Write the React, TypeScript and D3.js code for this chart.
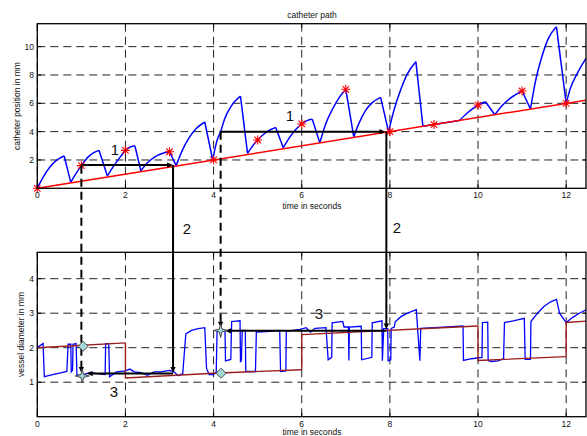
import React from "react";
import * as d3 from "d3";

// ---------- data ----------
const xTicks = [0, 2, 4, 6, 8, 10, 12];
const topYTicks = [2, 4, 6, 8, 10];
const botYTicks = [1, 2, 3, 4];

// catheter path: rising segments (trough -> peak); drops are straight lines to next segment
const pathSegments: [number, number][][] = [
  [[0, 0], [0.14, 0.82], [0.29, 1.52], [0.44, 1.99], [0.61, 2.28]],
  [[0.76, 0.42], [0.88, 1.05], [1.0, 1.6], [1.15, 2.2], [1.28, 2.52], [1.4, 2.68]],
  [[1.59, 0.87], [1.75, 1.65], [1.88, 2.2], [2.0, 2.68], [2.1, 2.9], [2.215, 3.0]],
  [[2.35, 1.24], [2.5, 1.8], [2.65, 2.18], [2.8, 2.42], [3.0, 2.58]],
  [[3.15, 1.6], [3.3, 2.75], [3.45, 3.6], [3.6, 4.2], [3.8, 4.68]],
  [[3.98, 2.0], [4.08, 3.4], [4.16, 4.0], [4.25, 4.9], [4.4, 5.8], [4.5, 6.2], [4.61, 6.51]],
  [[4.77, 2.47], [4.9, 3.05], [5.0, 3.41], [5.15, 3.85], [5.3, 4.15], [5.41, 4.3]],
  [[5.58, 2.87], [5.75, 3.7], [5.88, 4.2], [6.0, 4.54], [6.12, 4.78], [6.24, 4.87]],
  [[6.41, 3.22], [6.55, 4.6], [6.7, 5.6], [6.85, 6.4], [7.0, 6.99]],
  [[7.18, 3.64], [7.3, 4.6], [7.45, 5.5], [7.6, 6.05], [7.79, 6.42]],
  [[7.97, 4.0], [8.1, 5.6], [8.25, 7.0], [8.4, 8.1], [8.59, 8.94]],
  [[8.75, 4.38], [9.0, 4.5], [9.58, 4.79]],
  [[9.58, 4.79], [9.75, 5.3], [9.88, 5.62], [10.0, 5.88], [10.17, 6.11]],
  [[10.38, 5.19], [10.55, 5.85], [10.75, 6.4], [11.0, 6.87]],
  [[11.19, 5.6], [11.3, 7.5], [11.45, 9.3], [11.6, 10.6], [11.78, 11.4]],
  [[12.0, 6.0], [12.1, 7.1], [12.25, 8.1], [12.45, 9.17]],
];

const vesselLine: [number, number][] = [[0, 0], [12.45, 6.225]];
const starTimes = [0, 1, 2, 3, 4, 5, 6, 7, 8, 9, 10, 11, 12];
const starValues = [0, 1.6, 2.68, 2.58, 2.0, 3.41, 4.54, 6.99, 4.0, 4.5, 5.88, 6.87, 6.0];

// vessel diameter
const diamMeasured: [number, number][] = [
  [0, 2.0], [0.13, 2.12], [0.16, 1.16], [0.35, 1.22], [0.55, 1.28], [0.67, 1.31], [0.7, 2.1], [0.76, 2.1],
  [0.77, 1.3], [0.8, 1.35], [0.81, 2.1], [0.88, 2.12], [0.9, 1.2], [1.05, 1.22], [1.2, 1.28], [1.35, 1.25],
  [1.54, 1.22], [1.55, 2.12], [1.62, 2.12], [1.64, 1.16], [1.8, 1.3], [2.0, 1.33], [2.1, 1.38], [2.2, 1.3],
  [2.35, 1.28], [2.5, 1.2], [2.65, 1.3], [2.8, 1.3], [3.0, 1.34], [3.1, 1.3], [3.2, 1.19], [3.3, 1.25],
  [3.37, 2.4], [3.5, 2.5], [3.65, 2.55], [3.8, 2.58], [3.84, 1.4], [3.9, 1.22], [4.0, 1.22], [4.06, 1.3],
  [4.08, 2.5], [4.26, 2.48], [4.27, 1.62], [4.39, 1.66], [4.41, 2.76], [4.6, 2.78], [4.61, 1.6], [4.63, 1.62],
  [4.65, 2.5], [4.72, 2.5], [4.73, 1.31], [4.95, 1.31], [4.97, 2.45], [5.2, 2.47], [5.5, 2.5], [5.52, 1.31],
  [5.64, 1.33], [5.65, 2.48], [5.8, 2.5], [5.96, 2.53], [6.1, 2.58], [6.2, 2.45], [6.3, 2.56], [6.55, 2.58],
  [6.6, 1.65], [6.68, 1.72], [6.69, 2.72], [6.93, 2.76], [6.96, 2.6], [7.06, 2.6], [7.07, 1.63], [7.08, 2.6],
  [7.35, 2.62], [7.36, 1.65], [7.59, 1.72], [7.6, 2.72], [7.82, 2.78], [7.83, 1.62], [7.86, 2.55], [7.95, 2.55],
  [7.96, 1.62], [8.02, 1.65], [8.03, 2.56], [8.1, 2.6], [8.12, 2.75], [8.25, 2.9], [8.4, 3.0], [8.6, 3.1],
  [8.68, 1.62], [8.7, 2.56], [9.0, 2.58], [9.3, 2.6], [9.66, 2.63], [9.67, 1.63], [9.85, 1.68], [10.09, 1.72],
  [10.1, 2.73], [10.22, 2.74], [10.23, 1.63], [10.3, 1.6], [10.45, 1.62], [10.58, 1.68], [10.6, 2.73],
  [10.8, 2.78], [11.05, 2.85], [11.07, 1.66], [11.19, 1.66], [11.2, 2.76], [11.35, 3.0], [11.5, 3.2],
  [11.65, 3.33], [11.78, 3.4], [11.85, 3.0], [12.0, 2.73], [12.15, 2.88], [12.3, 3.0], [12.45, 3.1],
];

const diamModel: [number, number][][] = [
  [[0, 2.0], [2, 2.14]],
  [[2, 2.14], [2, 1.12], [4, 1.26], [6, 1.36]],
  [[6, 1.36], [6, 2.38], [10, 2.63]],
  [[10, 2.63], [10, 1.63], [12, 1.74]],
  [[12, 1.74], [12, 2.73], [12.45, 2.77]],
];

// annotation construction (time, value pairs)
const dashTimes = [1.0, 4.16];
const dashTopVals = [1.6, 4.0];
const dashBotVals = [1.27, 2.58];
const hTopFrom = [1.0, 4.16];
const hTopTo = [3.08, 7.9];
const hTopVals = [1.64, 4.0];
const vTimes = [3.08, 7.92];
const vBotVals = [1.27, 2.53];
const hBotVals = [1.25, 2.49];
const hBotTo = [1.12, 4.26];
const starMarks: [number, number][] = [[1.02, 1.18], [4.16, 2.5]];
const diamondMarks: [number, number][] = [[1.04, 2.04], [4.17, 1.26]];

// ---------- layout ----------
const W = 587;
const H = 436;
const L = 37.3;
const R = 586;
const topT = 23.7, topB = 188.3;
const botT = 252.3, botB = 416.7;

const x = d3.scaleLinear().domain([0, 12.45]).range([L, R]);
const yTop = d3.scaleLinear().domain([0, 11.62]).range([topB, topT]);
const yBot = d3.scaleLinear().domain([0, 4.765]).range([botB, botT]);

const FONT = "'Liberation Sans', Arial, sans-serif";

function asterisk(cx: number, cy: number, r = 4.5) {
  const a = r * 0.72;
  return `M${cx - r},${cy}L${cx + r},${cy}M${cx},${cy - r}L${cx},${cy + r}M${cx - a},${cy - a}L${cx + a},${cy + a}M${cx - a},${cy + a}L${cx + a},${cy - a}`;
}
function diamond(cx: number, cy: number, r = 5) {
  return `M${cx},${cy - r}L${cx + r},${cy}L${cx},${cy + r}L${cx - r},${cy}Z`;
}
function star4(cx: number, cy: number, r = 7, ri = 2) {
  const pts: string[] = [];
  for (let i = 0; i < 8; i++) {
    const ang = (Math.PI / 4) * i - Math.PI / 2;
    const rr = i % 2 === 0 ? r : ri;
    pts.push(`${cx + rr * Math.cos(ang)},${cy + rr * Math.sin(ang)}`);
  }
  return "M" + pts.join("L") + "Z";
}
function arrow(tx: number, ty: number, dir: "r" | "l" | "d", len = 6, hw = 2.6) {
  if (dir === "r") return `M${tx},${ty}L${tx - len},${ty - hw}L${tx - len},${ty + hw}Z`;
  if (dir === "l") return `M${tx},${ty}L${tx + len},${ty - hw}L${tx + len},${ty + hw}Z`;
  return `M${tx},${ty}L${tx - hw},${ty - len}L${tx + hw},${ty - len}Z`;
}

function Axes({ y, ticks, top, bottom }: any) {
  const dash = "8,5";
  return (
    <g>
      {xTicks.map((t) => (
        <line key={"gx" + t} x1={x(t)} x2={x(t)} y1={top} y2={bottom} stroke="#222" strokeWidth={1} strokeDasharray={dash} />
      ))}
      {ticks.map((t: number) => (
        <line key={"gy" + t} x1={L} x2={R} y1={y(t)} y2={y(t)} stroke="#222" strokeWidth={1} strokeDasharray={dash} />
      ))}
      {xTicks.map((t) => (
        <g key={"tx" + t}>
          <line x1={x(t)} x2={x(t)} y1={bottom} y2={bottom - 4} stroke="#000" />
          <line x1={x(t)} x2={x(t)} y1={top} y2={top + 4} stroke="#000" />
        </g>
      ))}
      {ticks.map((t: number) => (
        <g key={"ty" + t}>
          <line x1={L} x2={L + 4} y1={y(t)} y2={y(t)} stroke="#000" />
          <line x1={R} x2={R - 4} y1={y(t)} y2={y(t)} stroke="#000" />
        </g>
      ))}
    </g>
  );
}

function Frame({ top, bottom }: any) {
  return <rect x={L} y={top} width={R - L} height={bottom - top} fill="none" stroke="#000" strokeWidth={1.3} />;
}

export default function App() {
  const lineTop = d3.line<[number, number]>().x((d) => x(d[0])).y((d) => yTop(d[1])).curve(d3.curveMonotoneX);
  const lineTopLin = d3.line<[number, number]>().x((d) => x(d[0])).y((d) => yTop(d[1]));
  const lineBot = d3.line<[number, number]>().x((d) => x(d[0])).y((d) => yBot(d[1]));

  const drops: [number, number][][] = [];
  for (let i = 0; i < pathSegments.length - 1; i++) {
    const a = pathSegments[i][pathSegments[i].length - 1];
    const b = pathSegments[i + 1][0];
    drops.push([a, b]);
  }

  return (
    <div style={{ position: "fixed", left: 0, top: 0 }}>
      <svg width={W} height={H} style={{ display: "block", background: "#fff" }} fontFamily={FONT}>
        <defs>
          <clipPath id="clipTop"><rect x={L} y={topT} width={R - L} height={topB - topT} /></clipPath>
          <clipPath id="clipBot"><rect x={L} y={botT} width={R - L} height={botB - botT} /></clipPath>
        </defs>
        <rect width={W} height={H} fill="#fff" />

        {/* ---- top plot ---- */}
        <Axes y={yTop} ticks={topYTicks} top={topT} bottom={topB} />
        <g clipPath="url(#clipTop)">
          {pathSegments.map((s, i) => (
            <path key={"s" + i} d={lineTop(s) || ""} fill="none" stroke="#0000ff" strokeWidth={1.5} />
          ))}
          {drops.map((s, i) => (
            <path key={"d" + i} d={lineTopLin(s) || ""} fill="none" stroke="#0000ff" strokeWidth={1.5} />
          ))}
          <path d={lineTopLin(vesselLine) || ""} fill="none" stroke="#ff0000" strokeWidth={1.5} />
        </g>
        {starTimes.map((t, i) => (
          <path key={"st" + i} d={asterisk(x(t), yTop(starValues[i]))} stroke="#ff0000" strokeWidth={1.1} fill="none" />
        ))}
        <Frame top={topT} bottom={topB} />
        {xTicks.map((t) => (
          <text key={"lx" + t} x={x(t)} y={198} fontSize={8.5} textAnchor="middle" fill="#111">{t}</text>
        ))}
        {topYTicks.map((t) => (
          <text key={"ly" + t} x={34} y={yTop(t) + 3} fontSize={8.5} textAnchor="end" fill="#111">{t}</text>
        ))}
        <text x={312} y={209} fontSize={8.5} textAnchor="middle" fill="#111">time in seconds</text>
        <text x={312} y={18} fontSize={8.5} textAnchor="middle" fill="#111">catheter path</text>
        <text transform={`translate(19.5,${(topT + topB) / 2}) rotate(-90)`} fontSize={8.5} textAnchor="middle" fill="#111">catheter position in mm</text>

        {/* ---- bottom plot ---- */}
        <Axes y={yBot} ticks={botYTicks} top={botT} bottom={botB} />
        <g clipPath="url(#clipBot)">
          <path d={lineBot(diamMeasured) || ""} fill="none" stroke="#0000ff" strokeWidth={1.3} />
          {diamModel.map((s, i) => (
            <path key={"m" + i} d={lineBot(s) || ""} fill="none" stroke="#9a1c1c" strokeWidth={1.4} />
          ))}
        </g>
        <Frame top={botT} bottom={botB} />
        {xTicks.map((t) => (
          <text key={"bx" + t} x={x(t)} y={426.5} fontSize={8.5} textAnchor="middle" fill="#111">{t}</text>
        ))}
        {botYTicks.map((t) => (
          <text key={"by" + t} x={34} y={yBot(t) + 3} fontSize={8.5} textAnchor="end" fill="#111">{t}</text>
        ))}
        <text x={312} y={435} fontSize={8.5} textAnchor="middle" fill="#111">time in seconds</text>
        <text transform={`translate(24,${(botT + botB) / 2}) rotate(-90)`} fontSize={8.5} textAnchor="middle" fill="#111">vessel diameter in mm</text>

        {/* ---- annotations ---- */}
        {dashTimes.map((t, i) => (
          <g key={"an" + i}>
            <line x1={x(t)} x2={x(t)} y1={yTop(dashTopVals[i])} y2={yBot(dashBotVals[i]) - 3} stroke="#000" strokeWidth={2} strokeDasharray="8,5" />
            <path d={arrow(x(t), yBot(dashBotVals[i]), "d")} fill="#000" />
            <line x1={x(hTopFrom[i])} x2={x(hTopTo[i]) - 3} y1={yTop(hTopVals[i])} y2={yTop(hTopVals[i])} stroke="#000" strokeWidth={2} />
            <path d={arrow(x(hTopTo[i]), yTop(hTopVals[i]), "r")} fill="#000" />
            <line x1={x(vTimes[i])} x2={x(vTimes[i])} y1={yTop(hTopVals[i])} y2={yBot(vBotVals[i]) - 3} stroke="#000" strokeWidth={2} />
            <path d={arrow(x(vTimes[i]), yBot(vBotVals[i]), "d")} fill="#000" />
            <line x1={x(vTimes[i])} x2={x(hBotTo[i]) + 3} y1={yBot(hBotVals[i])} y2={yBot(hBotVals[i])} stroke="#000" strokeWidth={2} />
            <path d={arrow(x(hBotTo[i]), yBot(hBotVals[i]), "l")} fill="#000" />
            <path d={diamond(x(diamondMarks[i][0]), yBot(diamondMarks[i][1]))} fill="#a3d6d6" stroke="#3a3a3a" strokeWidth={0.9} />
            <path d={star4(x(starMarks[i][0]), yBot(starMarks[i][1]))} fill="#a3d6d6" stroke="#3a3a3a" strokeWidth={0.9} />
          </g>
        ))}
        <text x={x(1.76)} y={yTop(2.77) + 5.5} fontSize={15} textAnchor="middle" fill="#111">1</text>
        <text x={x(5.73)} y={yTop(5.17) + 5.5} fontSize={15} textAnchor="middle" fill="#111">1</text>
        <text x={187} y={233.5} fontSize={15} textAnchor="middle" fill="#111">2</text>
        <text x={397} y={232.5} fontSize={15} textAnchor="middle" fill="#111">2</text>
        <text x={x(1.74)} y={yBot(0.72) + 5.5} fontSize={15} textAnchor="middle" fill="#111">3</text>
        <text x={x(6.39)} y={yBot(2.98) + 5.5} fontSize={15} textAnchor="middle" fill="#111">3</text>
      </svg>
    </div>
  );
}
